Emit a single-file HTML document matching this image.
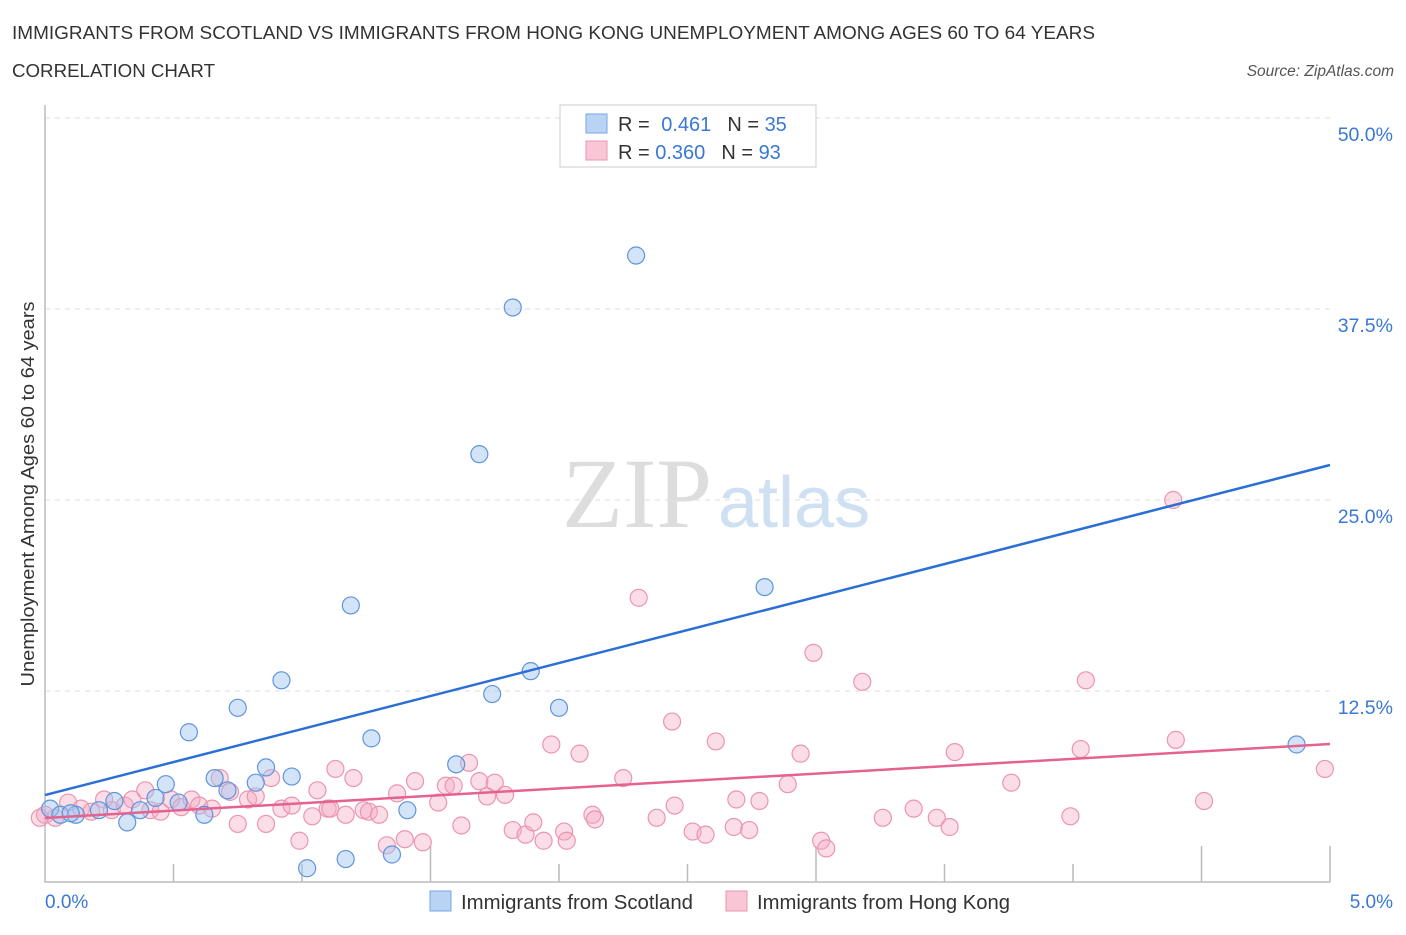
<!DOCTYPE html>
<html><head><meta charset="utf-8"><style>
body{margin:0;background:#fff;font-family:"Liberation Sans",sans-serif}
</style></head><body>
<svg width="1406" height="930" viewBox="0 0 1406 930" xmlns="http://www.w3.org/2000/svg">
<text x="12" y="39" font-size="18.5" fill="#333" textLength="1083" lengthAdjust="spacingAndGlyphs">IMMIGRANTS FROM SCOTLAND VS IMMIGRANTS FROM HONG KONG UNEMPLOYMENT AMONG AGES 60 TO 64 YEARS</text>
<text x="12" y="77" font-size="18.5" fill="#333" textLength="203" lengthAdjust="spacingAndGlyphs">CORRELATION CHART</text>
<text x="1394" y="76" font-size="15.5" fill="#555" font-style="italic" text-anchor="end">Source: ZipAtlas.com</text>
<g id="grid"></g>
<text x="712" y="527" font-size="100" fill="#ddd" font-family="Liberation Serif" text-anchor="end">ZIP</text>
<text x="718" y="527" font-size="72" fill="#cfe0f3" text-anchor="start">atlas</text>
<g id="pts"></g>
<g id="lines"></g>
<text x="34" y="494" font-size="18.5" fill="#333" text-anchor="middle" textLength="385" lengthAdjust="spacingAndGlyphs" transform="rotate(-90 34 494)">Unemployment Among Ages 60 to 64 years</text>
<text x="45" y="908" font-size="19" fill="#3a78d4">0.0%</text>
<text x="1393" y="908" font-size="19" fill="#3a78d4" text-anchor="end">5.0%</text>
<g>
<rect x="560" y="105" width="256" height="62" fill="#fff" stroke="#ccc"/>
<rect x="586" y="114" width="21" height="19" fill="#b9d3f5" stroke="#7aa6e4"/>
<rect x="586" y="141" width="21" height="19" fill="#f9c6d5" stroke="#eb95ae"/>
<text x="618" y="131" font-size="20" fill="#333">R = <tspan fill="#3a78d4" dx="6">0.461</tspan><tspan dx="16" fill="#333">N = </tspan><tspan fill="#3a78d4">35</tspan></text>
<text x="618" y="159" font-size="20" fill="#333">R = <tspan fill="#3a78d4">0.360</tspan><tspan dx="16" fill="#333">N = </tspan><tspan fill="#3a78d4">93</tspan></text>
</g>
<g>
<rect x="430" y="891" width="21" height="20" fill="#b9d3f5" stroke="#7aa6e4"/>
<text x="461" y="909" font-size="20" fill="#333" textLength="232" lengthAdjust="spacingAndGlyphs">Immigrants from Scotland</text>
<rect x="726" y="891" width="21" height="20" fill="#f9c6d5" stroke="#eb95ae"/>
<text x="757" y="909" font-size="20" fill="#333" textLength="253" lengthAdjust="spacingAndGlyphs">Immigrants from Hong Kong</text>
</g>
</svg>
<script>
const yTicks=[12.5,25,37.5,50];
const yTickLabels=["12.5%","25.0%","37.5%","50.0%"];
const scotX=[0.02,0.06,0.12,0.21,0.27,0.32,0.37,0.43,0.47,0.52,0.56,0.62,0.66,0.71,0.75,0.82,0.86,0.92,0.96,1.02,1.17,1.19,1.27,1.35,1.41,1.60,1.69,1.74,1.82,1.89,2.00,2.30,2.80,4.87,0.10];
const scotY=[4.8,4.4,4.4,4.7,5.3,3.9,4.7,5.5,6.4,5.2,9.8,4.4,6.8,6.0,11.4,6.5,7.5,13.2,6.9,0.9,1.5,18.1,9.4,1.8,4.7,7.7,28.0,12.3,37.6,13.8,11.4,41.0,19.3,9.0,4.5];
const hkX=[0.0,0.04,0.09,0.14,0.18,0.23,0.26,0.31,0.34,0.39,0.41,0.45,0.49,0.53,0.57,0.60,0.65,0.68,0.72,0.75,0.79,0.82,0.86,0.88,0.92,0.96,0.99,1.04,1.06,1.10,1.13,1.17,1.20,1.24,1.26,1.30,1.33,1.37,1.40,1.44,1.47,1.53,1.56,1.59,1.62,1.65,1.69,1.72,1.75,1.79,1.82,1.87,1.90,1.94,1.97,2.02,2.03,2.08,2.13,2.14,2.25,2.31,2.38,2.44,2.45,2.52,2.57,2.61,2.68,2.69,2.74,2.78,2.89,2.94,2.99,3.02,3.04,3.18,3.26,3.38,3.47,3.52,3.54,3.76,3.99,4.03,4.05,4.39,4.40,4.51,4.98,-0.02,1.11];
const hkY=[4.4,4.2,5.2,4.8,4.6,5.4,4.7,5.0,5.4,6.0,4.7,4.6,5.4,4.9,5.4,5.0,4.8,6.8,5.9,3.8,5.4,5.6,3.8,6.8,4.8,5.0,2.7,4.3,6.0,4.8,7.4,4.4,6.8,4.7,4.6,4.4,2.4,5.8,2.8,6.6,2.6,5.2,6.3,6.3,3.7,7.8,6.6,5.6,6.5,5.7,3.4,3.1,3.9,2.7,9.0,3.3,2.7,8.4,4.4,4.1,6.8,18.6,4.2,10.5,5.0,3.3,3.1,9.2,3.6,5.4,3.4,5.3,6.4,8.4,15.0,2.7,2.2,13.1,4.2,4.8,4.2,3.6,8.5,6.5,4.3,8.7,13.2,25.0,9.3,5.3,7.4,4.2,4.8];
const scotLine=[5.69,27.29];
const hkLine=[4.19,9.03];
const X=v=>45+v/5*1285, Y=v=>882-v/50*764;
const ns="http://www.w3.org/2000/svg";
function mk(t,a,p){const e=document.createElementNS(ns,t);for(const k in a)e.setAttribute(k,a[k]);p.appendChild(e);return e;}
const g=document.getElementById('grid');
yTicks.forEach((t,i)=>{
 const l=mk('line',{x1:45,x2:1330,y1:Y(t),y2:Y(t),stroke:'#ddd','stroke-dasharray':'5,5'},g);
 
 
 const tx=mk('text',{x:1393,y:Y(t)+23,'font-size':19.5,fill:'#3a78d4','text-anchor':'end'},g);
 tx.textContent=yTickLabels[i];
 
 
});
const ax=mk('path',{d:'M45 105V882H1330',fill:'none',stroke:'#bbb','stroke-width':1.5},g);


for(let i=1;i<=10;i++){const x=X(i*0.5);const tk=mk('line',{x1:x,x2:x,y1:882,y2:(i%3==0||i==10)?846:864,stroke:'#bbb','stroke-width':1.5},g);
 
 }
const p=document.getElementById('pts');
hkX.forEach((x,i)=>{const c=mk('circle',{cx:X(x),cy:Y(hkY[i]),r:8.5,fill:'rgba(246,170,195,0.4)',stroke:'#eb95ae','stroke-width':1.2},p);
 
 });
scotX.forEach((x,i)=>{const c=mk('circle',{cx:X(x),cy:Y(scotY[i]),r:8.5,fill:'rgba(160,196,240,0.45)',stroke:'#5f95dc','stroke-width':1.2},p);
 
 });
const L=document.getElementById('lines');
const l1=mk('line',{x1:X(0),y1:Y(scotLine[0]),x2:X(5),y2:Y(scotLine[1]),stroke:'#2a6fd6','stroke-width':2.5},L);


const l2=mk('line',{x1:X(0),y1:Y(hkLine[0]),x2:X(5),y2:Y(hkLine[1]),stroke:'#e5628e','stroke-width':2.5},L);


</script>
</body></html>
